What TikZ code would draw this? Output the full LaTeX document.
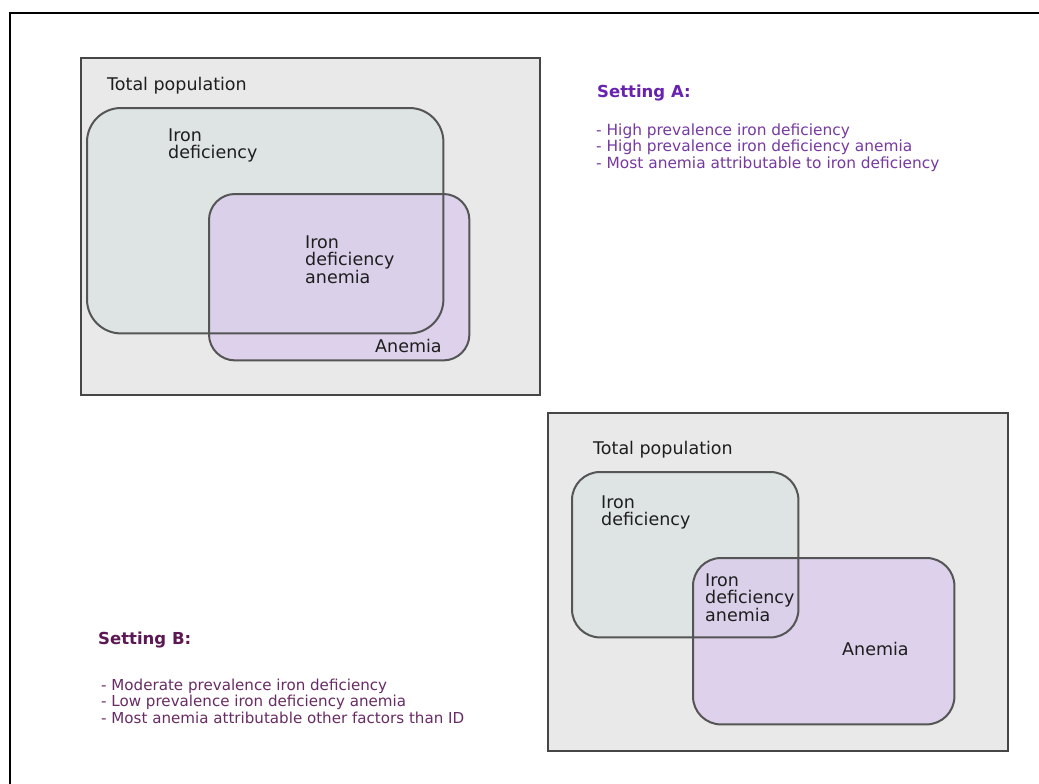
\documentclass[tikz,border=0pt]{standalone}
\usepackage{fontspec}
\setmainfont{DejaVu Sans}
\definecolor{panelfill}{RGB}{233,233,233}
\definecolor{panelline}{RGB}{70,70,70}
\definecolor{idfill}{RGB}{221,228,227}
\definecolor{anfill}{RGB}{217,202,236}
\definecolor{boxline}{RGB}{85,85,85}
\definecolor{labcol}{RGB}{30,30,30}
\definecolor{headA}{RGB}{104,34,176}
\definecolor{listA}{RGB}{118,58,160}
\definecolor{headB}{RGB}{92,24,82}
\definecolor{listB}{RGB}{104,44,100}
\newcommand\labfont{\fontsize{17.5}{17.5}\selectfont}
\newcommand\listfont{\fontsize{15.4}{16.5}\selectfont}
\newcommand\listfontB{\fontsize{15.1}{16.5}\selectfont}
\newcommand\headfont{\fontsize{16.5}{16.5}\selectfont\bfseries}
\tikzset{
  panel/.style={draw=panelline, fill=panelfill, line width=1.6pt, inner sep=0pt, anchor=north west},
  idbox/.style={fill=idfill, inner sep=0pt, anchor=north west},
  anbox/.style={fill=anfill, fill opacity=0.75, inner sep=0pt, anchor=north west},
  boxedge/.style={draw=boxline, line width=2pt},
  lab/.style={font=\labfont, text=labcol, inner sep=0pt, anchor=base west},
  head/.style={font=\headfont, inner sep=0pt, anchor=base west},
  item/.style={font=\listfont, inner sep=0pt, anchor=base west},
  itemB/.style={font=\listfontB, inner sep=0pt, anchor=base west}
}
\begin{document}
\begin{tikzpicture}[x=1pt, y=-1pt]
\useasboundingbox (0,0) rectangle (1039,784);
\fill[white] (0,0) rectangle (1039,784);
% outer frame
\coordinate (fTR) at (1039,13);
\coordinate (fTL) at (10,13);
\coordinate (fBL) at (10,784);
\draw[black, line width=2.2pt] (fTR) -- (fTL) -- (fBL);

% ---------- Setting A panel ----------
\node[panel, minimum width=459pt, minimum height=337pt] (pA) at (80,57) {};
\node[idbox, rounded corners=34pt, minimum width=356pt, minimum height=225pt] (idA) at (87,108) {};
\node[anbox, rounded corners=26pt, minimum width=260pt, minimum height=166pt] (anA) at (209,194) {};
\draw[boxedge, rounded corners=34pt] (idA.north west) rectangle (idA.south east);
\draw[boxedge, rounded corners=26pt] (anA.north west) rectangle (anA.south east);
\node[lab] (tpA) at (107,90) {Total population};
\node[lab] (idA1) at (168,141) {Iron};
\node[lab] (idA2) at (168,158) {deficiency};
\node[lab] (idaA1) at (305,248) {Iron};
\node[lab] (idaA2) at (305,265.5) {deficiency};
\node[lab] (idaA3) at (305,283) {anemia};
\node[lab] (anAl) at (375,352) {Anemia};

\node[head, text=headA] (hA) at (597,98) {Setting A:};
\node[item, text=listA] (lA1) at (596,135) {- High prevalence iron deficiency};
\node[item, text=listA] (lA2) at (596,151.5) {- High prevalence iron deficiency anemia};
\node[item, text=listA] (lA3) at (596,168) {- Most anemia attributable to iron deficiency};

% ---------- Setting B panel ----------
\node[panel, minimum width=460pt, minimum height=338pt] (pB) at (547,412) {};
\node[idbox, rounded corners=28pt, minimum width=226pt, minimum height=165pt] (idB) at (572,472) {};
\node[anbox, rounded corners=28pt, minimum width=261pt, minimum height=166pt] (anB) at (693,558) {};
\draw[boxedge, rounded corners=28pt] (idB.north west) rectangle (idB.south east);
\draw[boxedge, rounded corners=28pt] (anB.north west) rectangle (anB.south east);
\node[lab] (tpB) at (593,454) {Total population};
\node[lab] (idB1) at (601,508) {Iron};
\node[lab] (idB2) at (601,525.5) {deficiency};
\node[lab] (idaB1) at (705,586) {Iron};
\node[lab] (idaB2) at (705,603.5) {deficiency};
\node[lab] (idaB3) at (705,621) {anemia};
\node[lab] (anBl) at (842,655) {Anemia};

\node[head, text=headB] (hB) at (98,644) {Setting B:};
\node[itemB, text=listB] (lB1) at (101,690) {- Moderate prevalence iron deficiency};
\node[itemB, text=listB] (lB2) at (101,706.5) {- Low prevalence iron deficiency anemia};
\node[itemB, text=listB] (lB3) at (101,723) {- Most anemia attributable other factors than ID};
\end{tikzpicture}
\end{document}
